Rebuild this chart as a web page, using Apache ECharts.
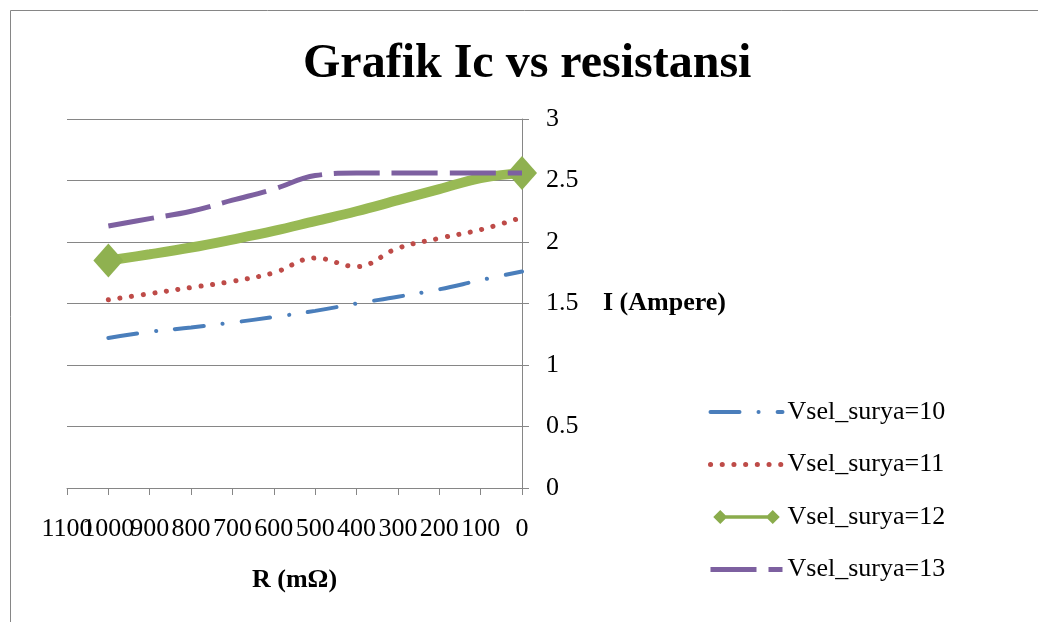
<!DOCTYPE html>
<html>
<head>
<meta charset="utf-8">
<title>Grafik Ic vs resistansi</title>
<script src="https://cdn.jsdelivr.net/npm/echarts@6/dist/echarts.min.js"></script>
<style>
  html, body { margin: 0; padding: 0; background: #ffffff; }
  #chart { width: 1038px; height: 622px; }
</style>
</head>
<body>
<div id="chart"></div>
<script>
// Resistance (mΩ) at which the collector current was measured
const resistance = [1000, 900, 800, 700, 600, 500, 400, 300, 200, 100, 0];

// Collector current I (A) for each solar-cell voltage
const iV10 = [1.22, 1.27, 1.305, 1.345, 1.39, 1.44, 1.50, 1.555, 1.615, 1.69, 1.76];
const iV11 = [1.53, 1.58, 1.63, 1.68, 1.75, 1.87, 1.80, 1.95, 2.03, 2.10, 2.20];
const iV12 = [1.85, 1.90, 1.955, 2.02, 2.09, 2.17, 2.25, 2.34, 2.43, 2.52, 2.56];
const iV13 = [2.13, 2.19, 2.25, 2.34, 2.43, 2.54, 2.56, 2.56, 2.56, 2.56, 2.56];

const seriesNames = ['Vsel_surya=10', 'Vsel_surya=11', 'Vsel_surya=12', 'Vsel_surya=13'];

// Axis ticks
const xMin = 0, xMax = 1100, xStep = 100;
const yMin = 0, yMax = 3, yStep = 0.5;

const serif = "'Liberation Serif', 'Times New Roman', serif";
const axisGrey = '#868686';

function pairs(values) {
  return resistance.map((r, i) => [r, values[i]]);
}

// Diamond markers only at the two ends of the Vsel=12 curve
function endMarked(values) {
  const last = values.length - 1;
  return resistance.map((r, i) => (i === 0 || i === last)
    ? { value: [r, values[i]], symbol: 'diamond', symbolSize: [30, 34] }
    : { value: [r, values[i]], symbol: 'none' });
}

// The R tick labels are wider than the tick spacing and overlap each other.
// They are split over two coincident axes (even / odd hundreds) so that
// every one of them stays visible.
const xLabelBase = {
  fontFamily: serif, fontSize: 26, color: '#000', margin: 28,
  hideOverlap: false, showMinLabel: true, showMaxLabel: true
};
const isEvenHundred = v => Math.round(v / xStep) % 2 === 0;

const chart = echarts.init(document.getElementById('chart'), null, { renderer: 'canvas' });

chart.setOption({
  backgroundColor: '#ffffff',
  animation: false,
  title: {
    text: 'Grafik Ic vs resistansi',
    left: 303,
    top: 41,
    padding: 0,
    textStyle: { fontFamily: serif, fontSize: 48, fontWeight: 'bold', color: '#000' }
  },
  graphic: [{
    type: 'rect',
    silent: true,
    shape: { x: 10.5, y: 10.5, width: 1200, height: 800 },
    style: { fill: 'none', stroke: axisGrey, lineWidth: 1 }
  }],
  grid: { left: 67, right: 516, top: 119, bottom: 134 },
  legend: {
    orient: 'vertical',
    left: 708,
    top: 399,
    padding: 0,
    itemWidth: 72,
    itemHeight: 14,
    itemGap: 26.5,
    selectedMode: false,
    itemStyle: { opacity: 0 },
    textStyle: { fontFamily: serif, fontSize: 26, color: '#000', lineHeight: 26 },
    data: [
      { name: seriesNames[0], lineStyle: { width: 4 } },
      { name: seriesNames[1], lineStyle: { width: 5 } },
      {
        name: seriesNames[2],
        icon: 'path://M0,8 L8,0 L16,8 L8,16 Z M8,6 L68,6 L68,10 L8,10 Z M60,8 L68,0 L76,8 L68,16 Z',
        itemStyle: { opacity: 1, color: '#8aac4c' }
      },
      { name: seriesNames[3], lineStyle: { width: 5 } }
    ]
  },
  xAxis: [
    {
      type: 'value',
      position: 'bottom',
      inverse: true,
      min: xMin,
      max: xMax,
      interval: xStep,
      name: 'R (mΩ)',
      nameLocation: 'middle',
      nameGap: 79,
      nameTextStyle: { fontFamily: serif, fontSize: 26, fontWeight: 'bold', color: '#000' },
      axisLine: { show: true, lineStyle: { color: axisGrey, width: 1 } },
      axisTick: { show: true, length: 7, lineStyle: { color: axisGrey } },
      axisLabel: Object.assign({}, xLabelBase, {
        formatter: v => (isEvenHundred(v) ? String(v) : '')
      }),
      splitLine: { show: false }
    },
    {
      type: 'value',
      position: 'bottom',
      inverse: true,
      min: xMin,
      max: xMax,
      interval: xStep,
      axisLine: { show: false },
      axisTick: { show: false },
      axisLabel: Object.assign({}, xLabelBase, {
        formatter: v => (isEvenHundred(v) ? '' : String(v))
      }),
      splitLine: { show: false }
    }
  ],
  yAxis: {
    type: 'value',
    position: 'right',
    min: yMin,
    max: yMax,
    interval: yStep,
    name: 'I (Ampere)',
    nameLocation: 'middle',
    nameRotate: 0,
    nameGap: 81,
    nameTextStyle: { fontFamily: serif, fontSize: 26, fontWeight: 'bold', color: '#000' },
    axisLine: { show: true, lineStyle: { color: axisGrey, width: 1 } },
    axisTick: { show: true, length: 7, lineStyle: { color: axisGrey } },
    axisLabel: { fontFamily: serif, fontSize: 26, color: '#000', margin: 24, showMinLabel: true, showMaxLabel: true },
    splitLine: { show: true, lineStyle: { color: axisGrey, width: 1 } }
  },
  series: [
    {
      name: seriesNames[0],
      type: 'line',
      smooth: 0.4,
      symbol: 'none',
      color: '#4a7ebb',
      lineStyle: { color: '#4a7ebb', width: 4, type: [29, 19, 0.1, 19], cap: 'round' },
      data: pairs(iV10),
      z: 2
    },
    {
      name: seriesNames[1],
      type: 'line',
      smooth: 0.4,
      symbol: 'none',
      color: '#be4b48',
      lineStyle: { color: '#be4b48', width: 5, type: [0.1, 11.6], cap: 'round' },
      data: pairs(iV11),
      z: 3
    },
    {
      name: seriesNames[2],
      type: 'line',
      smooth: 0.4,
      symbol: 'diamond',
      showAllSymbol: true,
      color: '#8fb150',
      itemStyle: { color: '#8fb150' },
      lineStyle: { color: '#98b954', width: 10 },
      data: endMarked(iV12),
      z: 4
    },
    {
      name: seriesNames[3],
      type: 'line',
      smooth: 0.4,
      symbol: 'none',
      color: '#7d60a0',
      lineStyle: { color: '#7d60a0', width: 5, type: [46, 12] },
      data: pairs(iV13),
      z: 5
    }
  ]
});
</script>
</body>
</html>
